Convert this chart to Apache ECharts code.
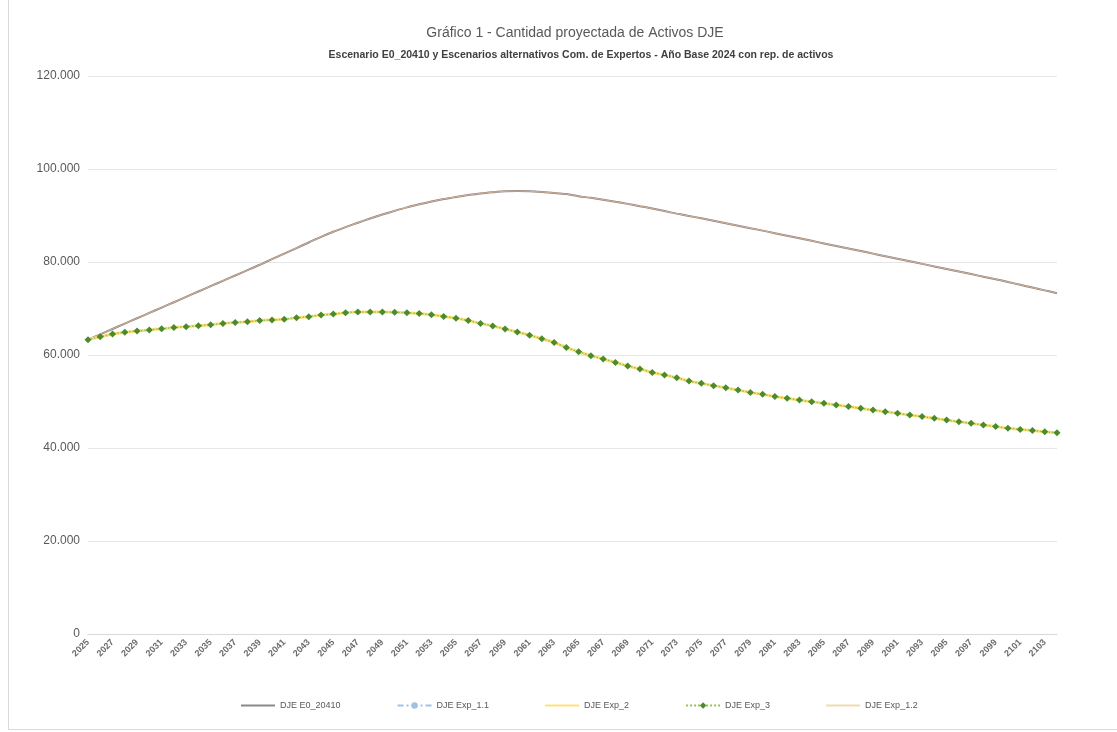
<!DOCTYPE html>
<html>
<head>
<meta charset="utf-8">
<script src="https://cdn.jsdelivr.net/npm/echarts@6/dist/echarts.min.js"></script>
<style>
  html, body { margin: 0; padding: 0; background: #ffffff; }
  #frame { position: absolute; left: 8px; top: 0; width: 1109px; height: 730px;
           border-left: 1px solid #d9d9d9; border-bottom: 1px solid #d9d9d9; box-sizing: border-box; }
  #chart { position: absolute; left: 0; top: 0; width: 1117px; height: 732px; }
</style>
</head>
<body>
<div id="frame"></div>
<div id="chart"></div>
<script>
// Years of projection (one point per year)
const years = [];
for (let y = 2025; y <= 2104; y++) years.push(String(y));

// Y axis ticks (thousands separated with a dot)
const yTicks = [0, 20000, 40000, 60000, 80000, 100000, 120000];

// Escenario E0_20410
const e0 = [
  63300, 64450, 65600, 66750, 67900, 69050, 70200, 71350, 72500, 73650,
  74800, 75950, 77100, 78250, 79400, 80600, 81800, 83000, 84200, 85400,
  86500, 87500, 88450, 89350, 90200, 91000, 91750, 92400, 93000, 93550,
  94000, 94400, 94750, 95000, 95200, 95250, 95200, 95050, 94850, 94600,
  94150, 93800, 93400, 92950, 92500, 92000, 91500, 90950, 90400, 89900,
  89400, 88870, 88340, 87810, 87280, 86750, 86200, 85650, 85100, 84550,
  84000, 83450, 82900, 82350, 81800, 81250, 80700, 80150, 79600, 79050,
  78500, 77950, 77400, 76850, 76300, 75700, 75100, 74500, 73900, 73300
];

// Escenario Exp_1.2
const exp12 = [
  63300, 64450, 65600, 66750, 67900, 69050, 70200, 71350, 72500, 73650,
  74800, 75950, 77100, 78250, 79400, 80600, 81800, 83000, 84200, 85400,
  86500, 87500, 88450, 89350, 90200, 91000, 91750, 92400, 93000, 93550,
  94000, 94400, 94750, 95000, 95200, 95250, 95200, 95050, 94850, 94600,
  94150, 93800, 93400, 92950, 92500, 92000, 91500, 90950, 90400, 89900,
  89400, 88870, 88340, 87810, 87280, 86750, 86200, 85650, 85100, 84550,
  84000, 83450, 82900, 82350, 81800, 81250, 80700, 80150, 79600, 79050,
  78500, 77950, 77400, 76850, 76300, 75700, 75100, 74500, 73900, 73300
];

// Escenario Exp_1.1
const exp11 = [
  63300, 63900, 64500, 64900, 65150, 65400, 65650, 65900, 66100, 66300,
  66500, 66800, 67000, 67150, 67400, 67550, 67700, 68000, 68250, 68600,
  68800, 69100, 69250, 69250, 69250, 69200, 69100, 68900, 68650, 68300,
  67900, 67400, 66800, 66250, 65600, 64950, 64250, 63500, 62700, 61600,
  60700, 59850, 59150, 58400, 57650, 57000, 56250, 55700, 55100, 54400,
  53900, 53400, 52950, 52450, 51950, 51550, 51050, 50700, 50300, 49950,
  49600, 49250, 48900, 48550, 48150, 47800, 47450, 47100, 46750, 46400,
  46000, 45650, 45300, 44950, 44600, 44250, 44000, 43750, 43500, 43300
];

// Escenario Exp_2
const exp2 = [
  63300, 63900, 64500, 64900, 65150, 65400, 65650, 65900, 66100, 66300,
  66500, 66800, 67000, 67150, 67400, 67550, 67700, 68000, 68250, 68600,
  68800, 69100, 69250, 69250, 69250, 69200, 69100, 68900, 68650, 68300,
  67900, 67400, 66800, 66250, 65600, 64950, 64250, 63500, 62700, 61600,
  60700, 59850, 59150, 58400, 57650, 57000, 56250, 55700, 55100, 54400,
  53900, 53400, 52950, 52450, 51950, 51550, 51050, 50700, 50300, 49950,
  49600, 49250, 48900, 48550, 48150, 47800, 47450, 47100, 46750, 46400,
  46000, 45650, 45300, 44950, 44600, 44250, 44000, 43750, 43500, 43300
];

// Escenario Exp_3
const exp3 = [
  63300, 63900, 64500, 64900, 65150, 65400, 65650, 65900, 66100, 66300,
  66500, 66800, 67000, 67150, 67400, 67550, 67700, 68000, 68250, 68600,
  68800, 69100, 69250, 69250, 69250, 69200, 69100, 68900, 68650, 68300,
  67900, 67400, 66800, 66250, 65600, 64950, 64250, 63500, 62700, 61600,
  60700, 59850, 59150, 58400, 57650, 57000, 56250, 55700, 55100, 54400,
  53900, 53400, 52950, 52450, 51950, 51550, 51050, 50700, 50300, 49950,
  49600, 49250, 48900, 48550, 48150, 47800, 47450, 47100, 46750, 46400,
  46000, 45650, 45300, 44950, 44600, 44250, 44000, 43750, 43500, 43300
];

const FONT = '"Liberation Sans", Arial, sans-serif';

// Plain line icon for legend entries without markers
const LINE_ICON = 'path://M0,0 L34,0 L34,2 L0,2 Z';

function fmtThousands(v) {
  return String(v).replace(/\B(?=(\d{3})+(?!\d))/g, '.');
}

const chart = echarts.init(document.getElementById('chart'), null, { renderer: 'canvas' });

chart.setOption({
  backgroundColor: 'transparent',
  animation: false,
  title: [
    {
      text: 'Gráfico 1 - Cantidad proyectada de Activos DJE',
      left: 570, top: 21, textAlign: 'center',
      textStyle: { fontFamily: FONT, fontSize: 14, fontWeight: 'normal', color: '#595959' }
    },
    {
      text: 'Escenario E0_20410 y Escenarios alternativos Com. de Expertos - Año Base 2024 con rep. de activos',
      left: 576, top: 45, textAlign: 'center',
      textStyle: { fontFamily: FONT, fontSize: 10.5, fontWeight: 'bold', color: '#404040' }
    }
  ],
  grid: { left: 88, right: 60, top: 76, bottom: 98, containLabel: false },
  xAxis: {
    type: 'category',
    data: years,
    boundaryGap: false,
    axisLine: { show: true, lineStyle: { color: '#d9d9d9', width: 1 } },
    axisTick: { show: false },
    axisLabel: {
      interval: 1, rotate: 45, margin: 7,
      fontFamily: FONT, fontSize: 9, fontWeight: 'bold', color: '#6b6b6b'
    },
    splitLine: { show: false }
  },
  yAxis: {
    type: 'value',
    min: yTicks[0], max: yTicks[yTicks.length - 1], interval: yTicks[1] - yTicks[0],
    axisLine: { show: false },
    axisTick: { show: false },
    axisLabel: {
      margin: 8, fontFamily: FONT, fontSize: 12, color: '#595959',
      formatter: v => fmtThousands(v)
    },
    splitLine: { lineStyle: { color: '#e6e6e6', width: 1 } }
  },
  legend: {
    bottom: 17, left: 236,
    itemWidth: 34, itemHeight: 8, itemGap: 56,
    textStyle: { fontFamily: FONT, fontSize: 9, color: '#595959' },
    data: [
      { name: 'DJE E0_20410', icon: LINE_ICON },
      { name: 'DJE Exp_1.1' },
      { name: 'DJE Exp_2', icon: LINE_ICON },
      { name: 'DJE Exp_3' },
      { name: 'DJE Exp_1.2', icon: LINE_ICON }
    ]
  },
  series: [
    {
      name: 'DJE E0_20410', type: 'line', data: e0, smooth: 0.3,
      showSymbol: false, symbol: 'none',
      lineStyle: { color: '#8a7f7c', width: 2 }, itemStyle: { color: '#8a8a8a' }
    },
    {
      name: 'DJE Exp_1.1', type: 'line', data: exp11, smooth: 0.3,
      symbol: 'circle', symbolSize: 3,
      lineStyle: { color: '#9dc3e6', width: 1.5, type: [6, 3, 2, 3] },
      itemStyle: { color: '#9dc3e6' }
    },
    {
      name: 'DJE Exp_2', type: 'line', data: exp2, smooth: 0.3,
      showSymbol: false, symbol: 'none',
      lineStyle: { color: '#ffe17a', width: 3 }, itemStyle: { color: '#ffe17a' }
    },
    {
      name: 'DJE Exp_3', type: 'line', data: exp3, smooth: 0.3,
      symbol: 'diamond', symbolSize: 7,
      lineStyle: { color: '#92c353', width: 1.5, type: 'dotted' },
      itemStyle: { color: '#4d8a2c' }
    },
    {
      name: 'DJE Exp_1.2', type: 'line', data: exp12, smooth: 0.3,
      showSymbol: false, symbol: 'none',
      lineStyle: { color: '#f0c9a6', width: 1, opacity: 0.7 }, itemStyle: { color: '#efdcae' }
    }
  ]
});
</script>
</body>
</html>
